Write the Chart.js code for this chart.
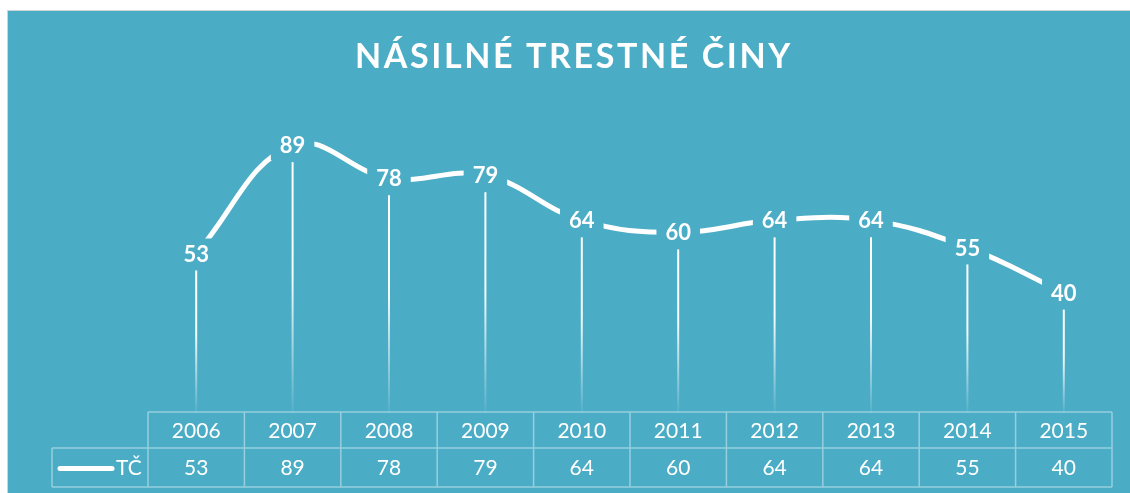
<!DOCTYPE html>
<html>
<head>
<meta charset="utf-8">
<script src="https://cdn.jsdelivr.net/npm/chart.js@4"></script>
<style>
    html, body { margin: 0; padding: 0; background: #fff; overflow: hidden; }
    #wrap {
        position: absolute; left: 7px; top: 10px;
        width: 1124px; height: 483px;
        background: #4BACC6;
        border: 1px solid #cfd4d6;
    }
</style>
</head>
<body>
<div id="wrap"><canvas id="crimes"></canvas></div>
<script>
const years = ['2006', '2007', '2008', '2009', '2010', '2011', '2012', '2013', '2014', '2015'];
const crimes = [53, 89, 78, 79, 64, 60, 64, 64, 55, 40];
const seriesName = 'TČ';
const chartTitle = 'NÁSILNÉ TRESTNÉ ČINY';

const TEAL = '#4BACC6';
const GRID = 'rgba(255,255,255,0.42)';
const FONT = 'Lato, "Open Sans", sans-serif';

// title, drop lines, point labels and the data table under the plot
const extras = {
    id: 'extras',
    afterDatasetsDraw(chart) {
        const ctx = chart.ctx;
        const area = chart.chartArea;
        const xs = chart.scales.x;
        const meta = chart.getDatasetMeta(0);
        const step = xs.getPixelForValue(1) - xs.getPixelForValue(0);

        ctx.save();

        // drop lines
        meta.data.forEach((pt) => {
            const top = pt.y + 17;
            const g = ctx.createLinearGradient(0, top, 0, area.bottom);
            g.addColorStop(0, 'rgba(255,255,255,1)');
            g.addColorStop(0.45, 'rgba(255,255,255,0.95)');
            g.addColorStop(1, 'rgba(255,255,255,0.05)');
            ctx.strokeStyle = g;
            ctx.lineWidth = 2;
            ctx.beginPath();
            ctx.moveTo(pt.x, top);
            ctx.lineTo(pt.x, area.bottom);
            ctx.stroke();
        });

        // point labels with a box that cuts the line
        ctx.font = 'bold 22px ' + FONT;
        ctx.textAlign = 'center';
        ctx.textBaseline = 'middle';
        meta.data.forEach((pt, i) => {
            const txt = String(crimes[i]);
            const w = ctx.measureText(txt).width;
            ctx.fillStyle = TEAL;
            ctx.fillRect(pt.x - w / 2 - 9, pt.y - 15, w + 18, 30);
            ctx.fillStyle = '#fff';
            ctx.fillText(txt, pt.x, pt.y + 1);
        });

        // data table
        const left = area.left, right = area.right;
        const r0 = area.bottom - 1, r1 = r0 + 36, r2 = r1 + 39;
        const keyLeft = left - 96;
        ctx.strokeStyle = GRID;
        ctx.lineWidth = 1.5;
        ctx.beginPath();
        ctx.moveTo(left, r0); ctx.lineTo(right, r0);
        ctx.moveTo(keyLeft, r1); ctx.lineTo(right, r1);
        ctx.moveTo(keyLeft, r2); ctx.lineTo(right, r2);
        ctx.moveTo(keyLeft, r1); ctx.lineTo(keyLeft, r2);
        for (let i = 0; i <= years.length; i++) {
            const x = left + i * step;
            ctx.moveTo(x, r0); ctx.lineTo(x, r2);
        }
        ctx.stroke();

        ctx.fillStyle = '#fff';
        ctx.font = '21px ' + FONT;
        years.forEach((y, i) => {
            const x = xs.getPixelForValue(i);
            ctx.fillText(y, x, (r0 + r1) / 2 + 1);
            ctx.fillText(String(crimes[i]), x, (r1 + r2) / 2 + 1);
        });

        // legend key
        ctx.strokeStyle = '#fff';
        ctx.lineWidth = 5;
        ctx.lineCap = 'round';
        ctx.beginPath();
        ctx.moveTo(keyLeft + 8, (r1 + r2) / 2 + 1);
        ctx.lineTo(keyLeft + 60, (r1 + r2) / 2 + 1);
        ctx.stroke();
        ctx.textAlign = 'left';
        ctx.fillText(seriesName, keyLeft + 64, (r1 + r2) / 2 + 1);

        // title
        ctx.font = 'bold 34px ' + FONT;
        ctx.letterSpacing = '2.6px';
        ctx.textAlign = 'center';
        ctx.textBaseline = 'alphabetic';
        ctx.fillText(chartTitle, 566, 57);

        ctx.restore();
    }
};

const ctx = document.getElementById('crimes').getContext('2d');

const crimesChart = new Chart(ctx, {
    type: 'line',
    data: {
        labels: years,
        datasets: [{
            label: seriesName,
            data: crimes,
            borderColor: '#fff',
            borderWidth: 5,
            pointRadius: 0,
            tension: 0.4,
            fill: false
        }]
    },
    options: {
        responsive: true,
        maintainAspectRatio: false,
        animation: false,
        events: [],
        layout: { padding: { left: 140, right: 20, top: 101, bottom: 81 } },
        plugins: {
            legend: { display: false },
            title: { display: false },
            tooltip: { enabled: false }
        },
        scales: {
            x: { display: false, offset: true },
            y: { display: false, min: 0, max: 100 }
        }
    },
    plugins: [extras]
});
</script>
</body>
</html>
